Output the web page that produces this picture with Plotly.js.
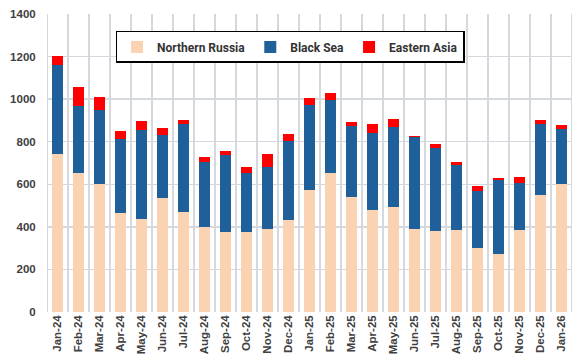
<!DOCTYPE html>
<html>
<head>
<meta charset="utf-8">
<script src="https://cdn.plot.ly/plotly-3.0.1.min.js"></script>
<style>html,body{margin:0;padding:0;background:#fff;}#chart{width:579px;height:363px;}</style>
</head>
<body>
<div id="chart"></div>
<script>
const months = ["Jan-24","Feb-24","Mar-24","Apr-24","May-24","Jun-24","Jul-24","Aug-24","Sep-24","Oct-24","Nov-24","Dec-24",
                "Jan-25","Feb-25","Mar-25","Apr-25","May-25","Jun-25","Jul-25","Aug-25","Sep-25","Oct-25","Nov-25","Dec-25","Jan-26"];
const northernRussia = [740, 652, 600, 466, 436, 537, 469, 398, 378, 375, 391, 431, 572, 652, 541, 478, 493, 391, 381, 384, 300, 273, 386, 551, 601];
const blackSea       = [422, 317, 348, 347, 419, 293, 416, 309, 359, 278, 291, 371, 399, 344, 331, 361, 374, 429, 388, 306, 269, 347, 219, 334, 257];
const easternAsia    = [ 43,  88,  62,  37,  41,  33,  19,  22,  19,  29,  62,  34,  34,  33,  19,  43,  41,   8,  20,  17,  21,   9,  30,  19,  19];

const tickFont = {family: "Liberation Sans, Arial, sans-serif", size: 11.5, color: "#404040", weight: "bold"};
const gridColor = "#d5d8dd";

const traces = [
  {name: "Northern Russia", x: months, y: northernRussia, type: "bar", marker: {color: "#FAD3B3"}},
  {name: "Black Sea", x: months, y: blackSea, type: "bar", marker: {color: "#1F5F9A"}},
  {name: "Eastern Asia", x: months, y: easternAsia, type: "bar", marker: {color: "#FF0000"}}
];

// vertical grid lines on the category boundaries
const boundaryLines = [];
for (let i = 0; i <= months.length; i++) {
  boundaryLines.push({type: "line", xref: "x", yref: "paper", x0: i - 0.5, x1: i - 0.5, y0: 0, y1: 1,
                      layer: "below", line: {color: gridColor, width: 2}});
}

const layout = {
  width: 579, height: 363,
  margin: {l: 47, r: 7, t: 14, b: 51, pad: 0},
  barmode: "stack",
  bargap: 0.52,
  paper_bgcolor: "#ffffff",
  plot_bgcolor: "#ffffff",
  showlegend: true,
  legend: {
    orientation: "h", x: 0.463, xanchor: "center", y: 0.943, yanchor: "top",
    bgcolor: "#ffffff", bordercolor: "#000000", borderwidth: 1.5,
    font: {family: "Roboto, sans-serif", size: 12, color: "#333333", weight: "bold"},
    traceorder: "normal"
  },
  shapes: boundaryLines,
  xaxis: {
    type: "category",
    range: [-0.5, months.length - 0.5],
    showgrid: false,
    tickangle: -90,
    tickfont: tickFont,
    ticks: "", showline: false, zeroline: false,
    automargin: false
  },
  yaxis: {
    range: [0, 1400], dtick: 200,
    showgrid: true, gridcolor: gridColor, gridwidth: 1.5,
    tickfont: tickFont,
    ticks: "outside", ticklen: 8, tickcolor: "rgba(0,0,0,0)",
    showline: false, zeroline: false,
    automargin: false
  }
};

Plotly.newPlot("chart", traces, layout, {displayModeBar: false, staticPlot: true});
</script>
</body>
</html>
